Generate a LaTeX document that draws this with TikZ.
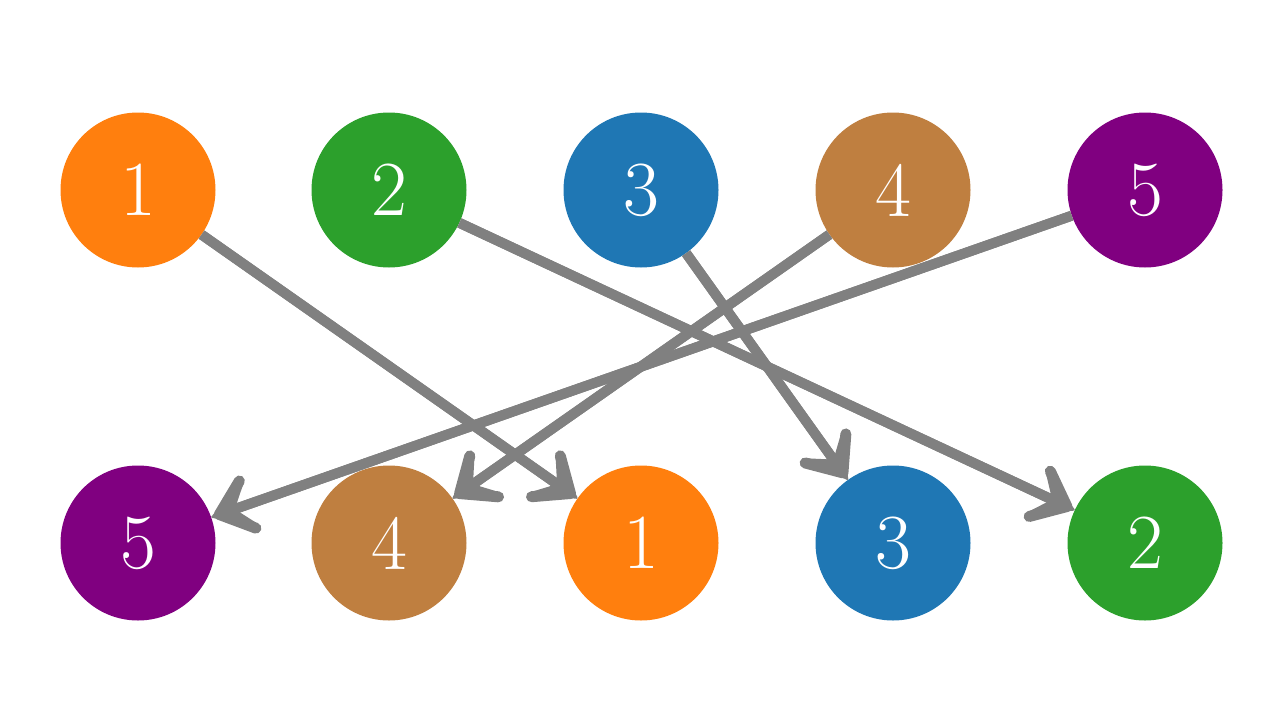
\documentclass[tikz,border=0pt]{standalone}
\usetikzlibrary{arrows.meta}
\definecolor{corange}{HTML}{FF7F0E}
\definecolor{cgreen}{HTML}{2CA02C}
\definecolor{cblue}{HTML}{1F77B4}
\definecolor{cbrown}{HTML}{BF7F40}
\definecolor{cpurple}{HTML}{800080}
\definecolor{cgray}{HTML}{808080}
\begin{document}
\begin{tikzpicture}[x=1pt,y=-1pt,
  ball/.style={circle,minimum size=155pt,inner sep=0pt,text=white,font=\fontsize{78}{78}\selectfont},
  conn/.style={draw=cgray,line width=10pt,-{Stealth[round,length=44pt,width=46pt,inset=18pt,line width=2pt]}},
  barb/.style={draw=cgray,line width=10pt,-{Straight Barb[round,length=30pt,width=50pt,line width=11pt]}}]
\useasboundingbox (0,0) rectangle (1280,720);
\node[ball,fill=corange] (t1) at (138,190) {1};
\node[ball,fill=cgreen] (t2) at (389,190) {2};
\node[ball,fill=cblue] (t3) at (641,190) {3};
\node[ball,fill=cbrown] (t4) at (893,190) {4};
\node[ball,fill=cpurple] (t5) at (1145,190) {5};
\node[ball,fill=cpurple] (b5) at (138,543) {5};
\node[ball,fill=cbrown] (b4) at (389,543) {4};
\node[ball,fill=corange] (b1) at (641,543) {1};
\node[ball,fill=cblue] (b3) at (893,543) {3};
\node[ball,fill=cgreen] (b2) at (1145,543) {2};
\draw[conn] (t1) -- (b1);
\draw[conn] (t2) -- (b2);
\draw[conn] (t3) -- (b3);
\draw[conn] (t4) -- (b4);
\draw[conn] (t5) -- (b5);
\draw[barb,shorten >=3pt] (t1) -- (b1);
\draw[barb,shorten >=3pt] (t2) -- (b2);
\draw[barb,shorten >=3pt] (t3) -- (b3);
\draw[barb,shorten >=3pt] (t4) -- (b4);
\draw[barb,shorten >=3pt] (t5) -- (b5);
\end{tikzpicture}
\end{document}
